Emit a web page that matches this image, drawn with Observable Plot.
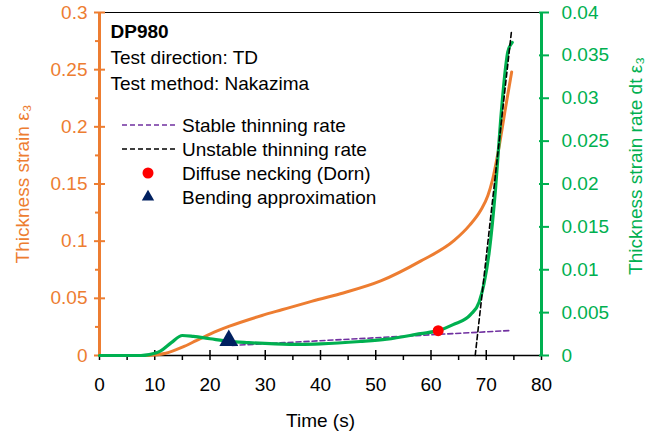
<!DOCTYPE html>
<html><head><meta charset="utf-8">
<script src="https://cdn.jsdelivr.net/npm/d3@7"></script>
<script src="https://cdn.jsdelivr.net/npm/@observablehq/plot@0.6"></script>
<style>
body{margin:0;background:#fff}
svg{font-family:"Liberation Sans",Arial,sans-serif}
</style>
</head><body><div id="chart"></div>
<script>
// ---- data ----
const strainTime = [0, 9, 10.1, 12, 15, 17.5, 20.1, 23.4, 29.4, 33, 37.9, 43.6, 50.9, 58.1, 64.2, 67, 69.0, 70.3, 71.1, 72.3, 73.5, 74.6];
const strainVal  = [0, 0, 0.0005, 0.002, 0.0073, 0.013, 0.019, 0.0254, 0.035, 0.040, 0.0467, 0.054, 0.0652, 0.0825, 0.1006, 0.114, 0.127, 0.14, 0.153, 0.182, 0.217, 0.248];
const rateTime = [0, 7.5, 9, 11, 13, 15, 17, 20, 23.4, 27, 31.8, 36.4, 40, 47.2, 52, 58.1, 61.3, 64, 67.2, 68.7, 69.6, 70.5, 71.7, 72.6, 73.5, 73.9, 74.7];
const rateVal  = [0, 0, 0.0001, 0.0005, 0.0015, 0.00233, 0.00222, 0.00195, 0.00165, 0.0015, 0.00136, 0.0013, 0.00135, 0.00163, 0.0019, 0.00255, 0.0029, 0.0036, 0.0048, 0.0062, 0.0084, 0.0119, 0.0196, 0.0274, 0.0336, 0.0354, 0.0365];
const stableTime = [24, 74.6];
const stableVal  = [0.00117, 0.00292];
const unstableTime = [68.0, 74.6];
const unstableVal  = [0, 0.038];
const dornPoint = {t: 61.3, rate: 0.0029};
const bendPoint = {t: 23.4, rate: 0.00175};
const xTicks = [0, 10, 20, 30, 40, 50, 60, 70, 80];
const xMinor = [5, 15, 25, 35, 45, 55, 65, 75];
const yLeftTicks = [0, 0.05, 0.1, 0.15, 0.2, 0.25, 0.3];
const yLeftMinor = [0.025, 0.075, 0.125, 0.175, 0.225, 0.275];
const yRightTicks = [0, 0.005, 0.01, 0.015, 0.02, 0.025, 0.03, 0.035, 0.04];
const notes = ["DP980", "Test direction: TD", "Test method: Nakazima"];
const legendLabels = ["Stable thinning rate", "Unstable thinning rate", "Diffuse necking (Dorn)", "Bending approximation"];

// ---- colours ----
const ORANGE = "#ED7D31", GREEN = "#00B050", PURPLE = "#7030A0", RED = "#FF0000", NAVY = "#002060";
const K = 0.3 / 0.04; // right axis -> left axis scale

const strain = strainTime.map((t, i) => ({t, v: strainVal[i]}));
const rate = rateTime.map((t, i) => ({t, v: rateVal[i] * K}));
const stable = stableTime.map((t, i) => ({t, v: stableVal[i] * K}));
const unstable = unstableTime.map((t, i) => ({t, v: unstableVal[i] * K}));
const fmt = d => String(+(+d).toFixed(4));

const FS = 19;
const chart = Plot.plot({
  width: 645, height: 437,
  marginLeft: 99, marginRight: 104, marginTop: 12, marginBottom: 82,
  style: {fontFamily: '"Liberation Sans", Arial, sans-serif', background: "#fff"},
  x: {domain: [0, 80]},
  y: {domain: [0, 0.3]},
  marks: [
    // frame lines
    Plot.ruleY([0.3], {stroke: "black", strokeWidth: 1}),
    Plot.ruleY([0], {stroke: "black", strokeWidth: 1.5}),
    // x axis
    Plot.axisX({ticks: xTicks, tickSize: 5, tickPadding: 17, tickFormat: fmt, fontSize: FS, stroke: "black", strokeWidth: 1.5, fill: "black", label: null}),
    Plot.axisX({ticks: xTicks, tickSize: -5, text: null, stroke: "black", strokeWidth: 1.5, label: null}),
    Plot.axisX({ticks: xMinor, tickSize: 5, text: null, stroke: "black", strokeWidth: 1.5, label: null}),
    // left axis
    Plot.axisY({ticks: yLeftTicks, tickSize: 5, tickPadding: 7, tickFormat: fmt, fontSize: FS, stroke: ORANGE, strokeWidth: 2, fill: ORANGE, label: null}),
    Plot.axisY({ticks: yLeftTicks, tickSize: -6, text: null, stroke: ORANGE, strokeWidth: 2, label: null}),
    Plot.axisY({ticks: yLeftMinor, tickSize: 4, text: null, stroke: ORANGE, strokeWidth: 2, label: null}),
    Plot.ruleX([0], {stroke: ORANGE, strokeWidth: 3}),
    // right axis
    Plot.axisY({anchor: "right", ticks: yRightTicks.map(d => d * K), tickSize: 7, tickPadding: 13, tickFormat: d => fmt(d / K), fontSize: FS, stroke: GREEN, strokeWidth: 2, fill: GREEN, label: null}),
    Plot.axisY({anchor: "right", ticks: yRightTicks.map(d => d * K), tickSize: -3, text: null, stroke: GREEN, strokeWidth: 2, label: null}),
    Plot.ruleX([80], {stroke: GREEN, strokeWidth: 3}),
    // data
    Plot.line(stable, {x: "t", y: "v", stroke: PURPLE, strokeWidth: 1.6, strokeDasharray: "5,3"}),
    Plot.line(strain, {x: "t", y: "v", stroke: ORANGE, strokeWidth: 3, curve: "monotone-x"}),
    Plot.line(rate, {x: "t", y: "v", stroke: GREEN, strokeWidth: 3.2, curve: "monotone-x"}),
    Plot.line(unstable, {x: "t", y: "v", stroke: "black", strokeWidth: 1.6, strokeDasharray: "5,3"}),
    Plot.dot([dornPoint], {x: "t", y: d => d.rate * K, r: 5.5, fill: RED}),
    Plot.dot([bendPoint], {x: "t", y: d => d.rate * K, r: 7, symbol: "triangle", fill: NAVY}),
    // notes
    Plot.text([notes[0]], {text: d => d, frameAnchor: "top-left", textAnchor: "start", lineAnchor: "middle", dx: 11, dy: 19, fontSize: FS, fontWeight: "bold", fill: "black"}),
    Plot.text([notes[1]], {text: d => d, frameAnchor: "top-left", textAnchor: "start", lineAnchor: "middle", dx: 11, dy: 45, fontSize: FS, fill: "black"}),
    Plot.text([notes[2]], {text: d => d, frameAnchor: "top-left", textAnchor: "start", lineAnchor: "middle", dx: 11, dy: 71, fontSize: FS, fill: "black"}),
    // axis titles
    Plot.text(["Thickness strain ε₃"], {text: d => d, frameAnchor: "left", rotate: -90, textAnchor: "middle", lineAnchor: "middle", dx: -77, dy: 0, fontSize: FS, fill: ORANGE}),
    Plot.text(["Thickness strain rate dt ε₃"], {text: d => d, frameAnchor: "right", rotate: -90, textAnchor: "middle", lineAnchor: "middle", dx: 94, dy: -18, fontSize: FS, fill: GREEN}),
    Plot.text(["Time (s)"], {text: d => d, frameAnchor: "bottom", textAnchor: "middle", lineAnchor: "middle", dy: 65, fontSize: FS, fill: "black"})
  ]
});
document.getElementById("chart").appendChild(chart);

// ---- legend (inside plot area) ----
const svg = d3.select(chart);
const lg = svg.append("g").attr("font-size", FS).attr("text-anchor", "start").attr("font-family", '"Liberation Sans", Arial, sans-serif');
const rows = [125, 149, 173, 197];
const tx = 182;
lg.append("line").attr("x1", 122).attr("x2", 175).attr("y1", rows[0]).attr("y2", rows[0]).attr("stroke", PURPLE).attr("stroke-width", 1.6).attr("stroke-dasharray", "5,3");
lg.append("line").attr("x1", 122).attr("x2", 175).attr("y1", rows[1]).attr("y2", rows[1]).attr("stroke", "black").attr("stroke-width", 1.6).attr("stroke-dasharray", "5,3");
lg.append("circle").attr("cx", 148).attr("cy", rows[2]).attr("r", 5.5).attr("fill", RED);
lg.append("path").attr("d", d3.symbol(d3.symbolTriangle2, 110)()).attr("transform", `translate(148,${rows[3]})`).attr("fill", NAVY);
legendLabels.forEach((s, i) => {
  lg.append("text").attr("x", tx).attr("y", rows[i]).attr("dy", "0.35em").attr("fill", "black").text(s);
});
</script>
</body></html>
